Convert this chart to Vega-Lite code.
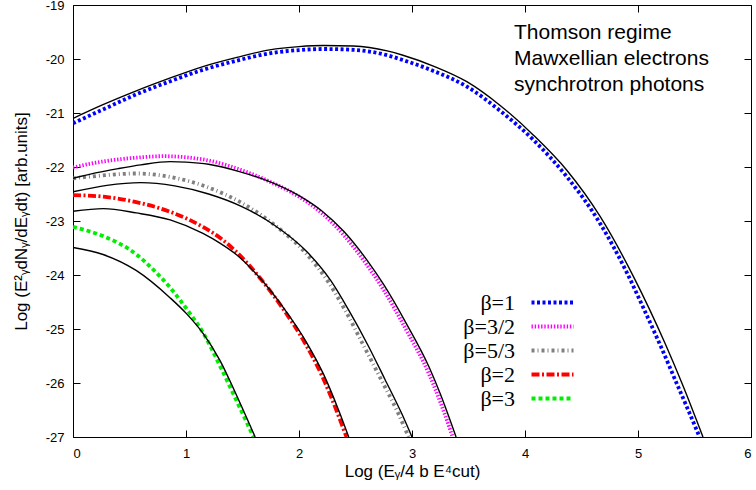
{
  "$schema": "https://vega.github.io/schema/vega-lite/v6.json",
  "width": 678,
  "height": 432,
  "autosize": "none",
  "padding": {"left": 73, "top": 5, "right": 5, "bottom": 53},
  "background": "white",
  "title": {
    "text": ["Thomson regime", "Mawxellian electrons", "synchrotron photons"],
    "orient": "top", "anchor": "end", "frame": "group", "align": "left", "baseline": "top",
    "dx": -237, "offset": -96,
    "font": "Liberation Sans", "fontSize": 21, "fontWeight": "normal", "lineHeight": 26, "color": "black"
  },
  "config": {
    "view": {"stroke": "black", "strokeWidth": 1},
    "axis": {
      "labelFont": "Liberation Sans", "labelFontSize": 13, "labelColor": "black",
      "titleFont": "Liberation Sans", "titleFontSize": 17, "titleFontWeight": "normal", "titleColor": "black",
      "grid": false, "domain": false, "tickColor": "black", "tickSize": -7, "tickWidth": 1
    }
  },
  "datasets": {
    "curves": [
      {"s": "β=1", "x": 0, "y": -21.19}, {"s": "β=1", "x": 0.25, "y": -20.95}, {"s": "β=1", "x": 0.56, "y": -20.655},
      {"s": "β=1", "x": 0.85, "y": -20.42}, {"s": "β=1", "x": 1.15, "y": -20.2}, {"s": "β=1", "x": 1.45, "y": -20.03},
      {"s": "β=1", "x": 1.74, "y": -19.895}, {"s": "β=1", "x": 2.0, "y": -19.835}, {"s": "β=1", "x": 2.22, "y": -19.815},
      {"s": "β=1", "x": 2.48, "y": -19.83}, {"s": "β=1", "x": 2.78, "y": -19.93}, {"s": "β=1", "x": 2.92, "y": -20.02},
      {"s": "β=1", "x": 3.2, "y": -20.23}, {"s": "β=1", "x": 3.485, "y": -20.51}, {"s": "β=1", "x": 3.78, "y": -20.96},
      {"s": "β=1", "x": 4.075, "y": -21.5}, {"s": "β=1", "x": 4.37, "y": -22.18}, {"s": "β=1", "x": 4.666, "y": -23.05},
      {"s": "β=1", "x": 4.9, "y": -23.95}, {"s": "β=1", "x": 5.05, "y": -24.62}, {"s": "β=1", "x": 5.197, "y": -25.3},
      {"s": "β=1", "x": 5.345, "y": -26.02}, {"s": "β=1", "x": 5.45, "y": -26.53}, {"s": "β=1", "x": 5.545, "y": -27.0},

      {"s": "β=3/2", "x": 0, "y": -22.01}, {"s": "β=3/2", "x": 0.2, "y": -21.92}, {"s": "β=3/2", "x": 0.4, "y": -21.86},
      {"s": "β=3/2", "x": 0.6, "y": -21.82}, {"s": "β=3/2", "x": 0.8, "y": -21.8}, {"s": "β=3/2", "x": 1.0, "y": -21.82},
      {"s": "β=3/2", "x": 1.2, "y": -21.88}, {"s": "β=3/2", "x": 1.48, "y": -22.05}, {"s": "β=3/2", "x": 1.74, "y": -22.27},
      {"s": "β=3/2", "x": 2.0, "y": -22.55}, {"s": "β=3/2", "x": 2.2, "y": -22.85}, {"s": "β=3/2", "x": 2.4, "y": -23.27},
      {"s": "β=3/2", "x": 2.6, "y": -23.81}, {"s": "β=3/2", "x": 2.75, "y": -24.28}, {"s": "β=3/2", "x": 2.95, "y": -25.02},
      {"s": "β=3/2", "x": 3.15, "y": -25.83}, {"s": "β=3/2", "x": 3.25, "y": -26.35}, {"s": "β=3/2", "x": 3.36, "y": -27.0},

      {"s": "β=5/3", "x": 0, "y": -22.21}, {"s": "β=5/3", "x": 0.3, "y": -22.15}, {"s": "β=5/3", "x": 0.56, "y": -22.12},
      {"s": "β=5/3", "x": 0.9, "y": -22.2}, {"s": "β=5/3", "x": 1.2, "y": -22.38}, {"s": "β=5/3", "x": 1.48, "y": -22.65},
      {"s": "β=5/3", "x": 1.77, "y": -23.05}, {"s": "β=5/3", "x": 2.07, "y": -23.62}, {"s": "β=5/3", "x": 2.25, "y": -24.1},
      {"s": "β=5/3", "x": 2.4, "y": -24.62}, {"s": "β=5/3", "x": 2.57, "y": -25.3}, {"s": "β=5/3", "x": 2.73, "y": -25.95},
      {"s": "β=5/3", "x": 2.88, "y": -26.57}, {"s": "β=5/3", "x": 2.97, "y": -27.0},

      {"s": "β=2", "x": 0, "y": -22.52}, {"s": "β=2", "x": 0.27, "y": -22.55}, {"s": "β=2", "x": 0.56, "y": -22.65},
      {"s": "β=2", "x": 0.86, "y": -22.83}, {"s": "β=2", "x": 1.15, "y": -23.11}, {"s": "β=2", "x": 1.3, "y": -23.31},
      {"s": "β=2", "x": 1.45, "y": -23.58}, {"s": "β=2", "x": 1.66, "y": -24.07}, {"s": "β=2", "x": 1.85, "y": -24.6},
      {"s": "β=2", "x": 2.05, "y": -25.25}, {"s": "β=2", "x": 2.2, "y": -25.85}, {"s": "β=2", "x": 2.33, "y": -26.5},
      {"s": "β=2", "x": 2.42, "y": -27.0},

      {"s": "β=3", "x": 0, "y": -23.11}, {"s": "β=3", "x": 0.266, "y": -23.28}, {"s": "β=3", "x": 0.562, "y": -23.62},
      {"s": "β=3", "x": 0.7, "y": -23.88}, {"s": "β=3", "x": 0.858, "y": -24.23}, {"s": "β=3", "x": 1.006, "y": -24.63},
      {"s": "β=3", "x": 1.154, "y": -25.08}, {"s": "β=3", "x": 1.3, "y": -25.68}, {"s": "β=3", "x": 1.45, "y": -26.34},
      {"s": "β=3", "x": 1.598, "y": -27.0}
    ],
    "fits": [
      {"s": "f1", "x": 0, "y": -21.1}, {"s": "f1", "x": 0.25, "y": -20.86}, {"s": "f1", "x": 0.56, "y": -20.59},
      {"s": "f1", "x": 0.85, "y": -20.36}, {"s": "f1", "x": 1.15, "y": -20.14}, {"s": "f1", "x": 1.45, "y": -19.97},
      {"s": "f1", "x": 1.74, "y": -19.83}, {"s": "f1", "x": 2.0, "y": -19.77}, {"s": "f1", "x": 2.22, "y": -19.75},
      {"s": "f1", "x": 2.48, "y": -19.76}, {"s": "f1", "x": 2.78, "y": -19.85}, {"s": "f1", "x": 2.92, "y": -19.93},
      {"s": "f1", "x": 3.2, "y": -20.14}, {"s": "f1", "x": 3.485, "y": -20.42}, {"s": "f1", "x": 3.78, "y": -20.86},
      {"s": "f1", "x": 4.075, "y": -21.41}, {"s": "f1", "x": 4.37, "y": -22.06}, {"s": "f1", "x": 4.666, "y": -22.92},
      {"s": "f1", "x": 4.96, "y": -24.03}, {"s": "f1", "x": 5.24, "y": -25.27}, {"s": "f1", "x": 5.39, "y": -26.01},
      {"s": "f1", "x": 5.575, "y": -27.0},

      {"s": "f32", "x": 0, "y": -22.21}, {"s": "f32", "x": 0.2, "y": -22.11}, {"s": "f32", "x": 0.4, "y": -22.03},
      {"s": "f32", "x": 0.6, "y": -21.96}, {"s": "f32", "x": 0.86, "y": -21.9}, {"s": "f32", "x": 1.0, "y": -21.91},
      {"s": "f32", "x": 1.2, "y": -21.95}, {"s": "f32", "x": 1.48, "y": -22.09}, {"s": "f32", "x": 1.74, "y": -22.27},
      {"s": "f32", "x": 2.0, "y": -22.53}, {"s": "f32", "x": 2.2, "y": -22.81}, {"s": "f32", "x": 2.4, "y": -23.2},
      {"s": "f32", "x": 2.6, "y": -23.72}, {"s": "f32", "x": 2.75, "y": -24.18}, {"s": "f32", "x": 2.95, "y": -24.9},
      {"s": "f32", "x": 3.15, "y": -25.7}, {"s": "f32", "x": 3.25, "y": -26.2}, {"s": "f32", "x": 3.39, "y": -27.0},

      {"s": "f53", "x": 0, "y": -22.46}, {"s": "f53", "x": 0.3, "y": -22.34}, {"s": "f53", "x": 0.6, "y": -22.29},
      {"s": "f53", "x": 0.9, "y": -22.35}, {"s": "f53", "x": 1.2, "y": -22.5}, {"s": "f53", "x": 1.48, "y": -22.72},
      {"s": "f53", "x": 1.77, "y": -23.06}, {"s": "f53", "x": 2.07, "y": -23.57}, {"s": "f53", "x": 2.28, "y": -24.1},
      {"s": "f53", "x": 2.44, "y": -24.65}, {"s": "f53", "x": 2.61, "y": -25.3}, {"s": "f53", "x": 2.76, "y": -25.93},
      {"s": "f53", "x": 2.91, "y": -26.57}, {"s": "f53", "x": 3.0, "y": -27.0},

      {"s": "f2", "x": 0, "y": -22.82}, {"s": "f2", "x": 0.27, "y": -22.77}, {"s": "f2", "x": 0.56, "y": -22.85},
      {"s": "f2", "x": 0.86, "y": -22.98}, {"s": "f2", "x": 1.15, "y": -23.23}, {"s": "f2", "x": 1.3, "y": -23.41},
      {"s": "f2", "x": 1.45, "y": -23.63}, {"s": "f2", "x": 1.66, "y": -24.07}, {"s": "f2", "x": 1.86, "y": -24.6},
      {"s": "f2", "x": 2.07, "y": -25.26}, {"s": "f2", "x": 2.22, "y": -25.85}, {"s": "f2", "x": 2.35, "y": -26.5},
      {"s": "f2", "x": 2.44, "y": -27.0},

      {"s": "f3", "x": 0, "y": -23.49}, {"s": "f3", "x": 0.266, "y": -23.62}, {"s": "f3", "x": 0.562, "y": -23.92},
      {"s": "f3", "x": 0.858, "y": -24.42}, {"s": "f3", "x": 1.006, "y": -24.72}, {"s": "f3", "x": 1.154, "y": -25.09},
      {"s": "f3", "x": 1.3, "y": -25.58}, {"s": "f3", "x": 1.45, "y": -26.24}, {"s": "f3", "x": 1.612, "y": -27.0}
    ]
  },
  "resolve": {"axis": {"x": "independent", "y": "independent"}},
  "layer": [
    {
      "data": {"name": "curves"},
      "mark": {"type": "line", "strokeWidth": 3.8, "clip": true, "interpolate": "monotone"},
      "encoding": {
        "x": {
          "field": "x", "type": "quantitative",
          "scale": {"domain": [0, 6], "nice": false, "zero": false},
          "axis": {"orient": "bottom", "values": [0, 1, 2, 3, 4, 5, 6], "title": "Log (Eᵧ/4 b E⁴cut)", "labelPadding": 17, "titlePadding": 3}
        },
        "y": {
          "field": "y", "type": "quantitative",
          "scale": {"domain": [-27, -19], "nice": false, "zero": false},
          "axis": {"orient": "left", "values": [-27, -26, -25, -24, -23, -22, -21, -20, -19], "labelExpr": "datum.value + ''", "title": "Log (E²ᵧdNᵧ/dEᵧdt) [arb.units]", "labelPadding": 16, "titlePadding": 15}
        },
        "color": {
          "field": "s", "type": "nominal",
          "scale": {"domain": ["β=1", "β=3/2", "β=5/3", "β=2", "β=3"], "range": ["#0000ff", "#ff00ff", "#808080", "#ff0000", "#00ee00"]},
          "legend": {"title": null, "orient": "none", "legendX": 467, "legendY": 285, "padding": 0, "symbolType": "M-2,0L2,0", "symbolSize": 441, "symbolStrokeWidth": 3.8, "labelFont": "Liberation Serif", "labelFontSize": 22, "labelColor": "black", "labelAlign": "right", "labelOffset": -50, "rowPadding": 0}
        },
        "strokeDash": {
          "field": "s", "type": "nominal",
          "scale": {"domain": ["β=1", "β=3/2", "β=5/3", "β=2", "β=3"], "range": [[3, 2.5], [1.4, 1.8], [3, 3, 1, 3], [8, 2.5, 2, 2.5], [4, 3]]},
          "legend": {"title": null, "orient": "none", "legendX": 467, "legendY": 285, "padding": 0, "symbolType": "M-2,0L2,0", "symbolSize": 441, "symbolStrokeWidth": 3.8, "labelFont": "Liberation Serif", "labelFontSize": 22, "labelColor": "black", "labelAlign": "right", "labelOffset": -50, "rowPadding": 0}
        }
      }
    },
    {
      "data": {"name": "fits"},
      "mark": {"type": "line", "strokeWidth": 1.4, "color": "black", "clip": true, "interpolate": "monotone"},
      "encoding": {
        "x": {"field": "x", "type": "quantitative", "axis": {"orient": "top", "values": [0, 1, 2, 3, 4, 5, 6], "labels": false, "title": null}},
        "y": {"field": "y", "type": "quantitative", "axis": {"orient": "right", "values": [-27, -26, -25, -24, -23, -22, -21, -20, -19], "labels": false, "title": null}},
        "detail": {"field": "s", "type": "nominal"}
      }
    }
  ]
}
